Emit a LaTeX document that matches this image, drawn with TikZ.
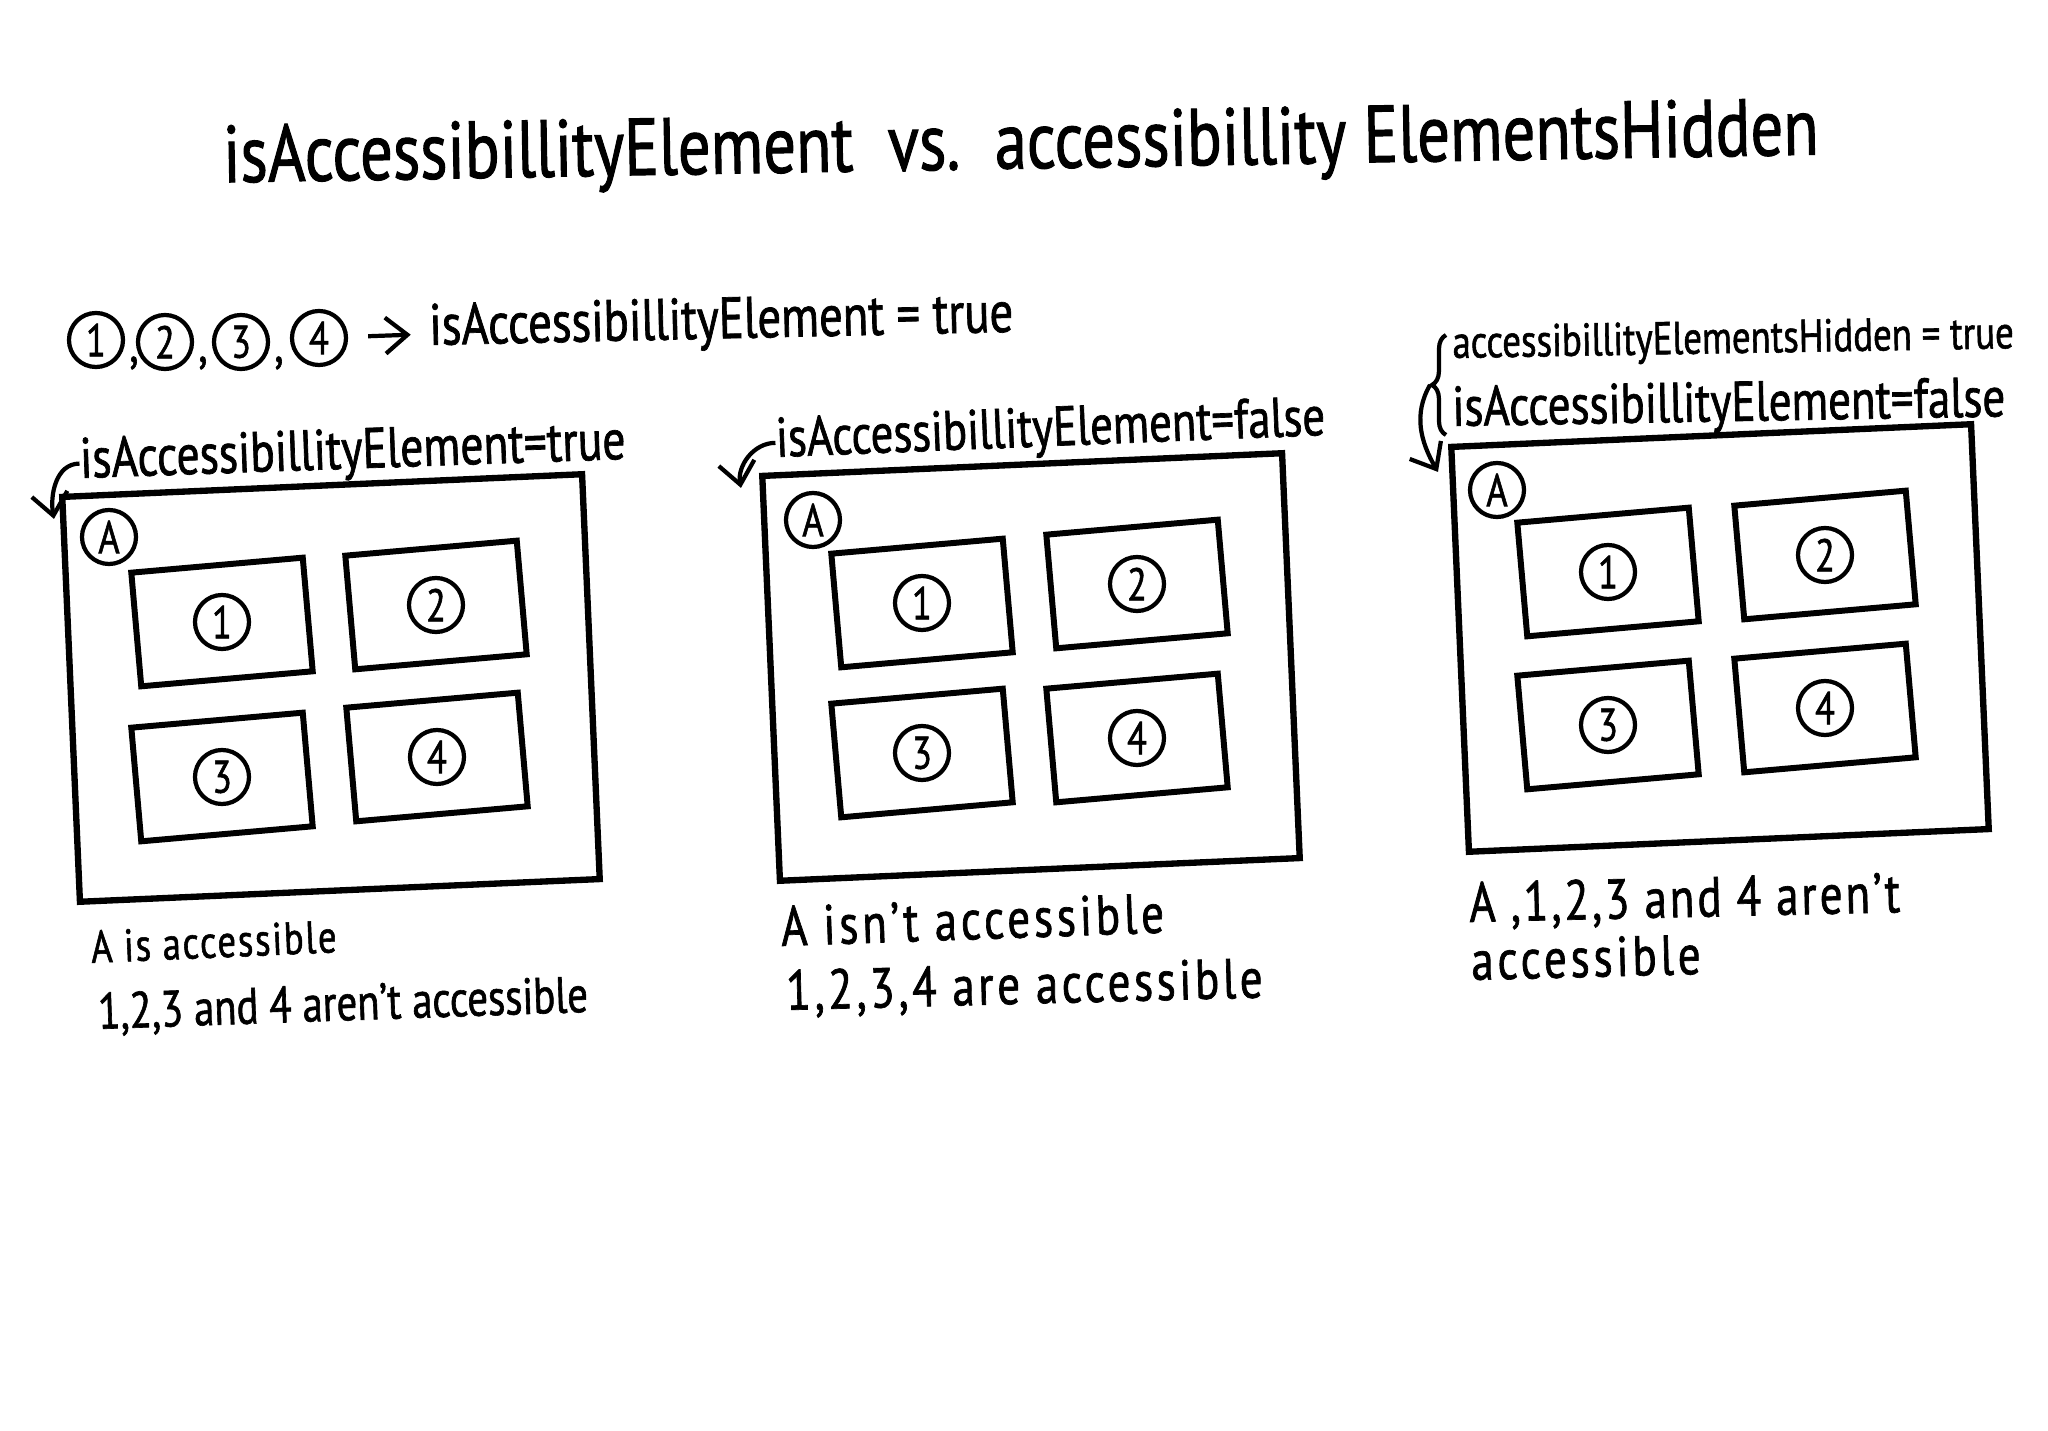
\documentclass[tikz,border=0pt]{standalone}
\usepackage{fontspec}
\setmainfont[FakeStretch=0.8,FakeBold=1.2]{PT Sans}
\usetikzlibrary{arrows.meta,decorations.pathreplacing}

\newcommand{\handsize}[1]{\fontsize{#1}{#1}\selectfont}
\newcommand{\spread}[1]{\addfontfeature{LetterSpace=#1}}

\tikzset{
  view/.style={draw,line width=1.8pt,minimum width=5.2cm,minimum height=4.05cm,rotate=2.5},
  item/.style={draw,line width=1.7pt,minimum width=1.72cm,minimum height=1.14cm,rotate=5},
  num/.style={draw,circle,line width=1.2pt,minimum size=0.54cm,inner sep=0pt,font=\handsize{13}},
  hand/.style={inner sep=0pt,anchor=base west},
  link/.style={->,line width=1.2pt},
}

\begin{document}
\begin{tikzpicture}[>={Straight Barb[length=2.2mm,width=3.6mm]},x=0.01cm,y=0.01cm]
    \fill[white] (0,0) rectangle (2048,-1431);
    \useasboundingbox (0,0) rectangle (2048,-1431);
    % title
    \node at (1021,-148)[font=\handsize{23},rotate=1] (title){isAccessibillityElement~~vs.~~accessibillity ElementsHidden};
    % legend
    \node at (96,-340)[num] (k1){1};
    \node at (134,-363)[font=\handsize{15}] (c1){,};
    \node at (165,-342)[num] (k2){2};
    \node at (203,-363)[font=\handsize{15}] (c2){,};
    \node at (241,-342)[num] (k3){3};
    \node at (279,-363)[font=\handsize{15}] (c3){,};
    \node at (319,-338)[num] (k4){4};
    \node at (429,-345)[hand,font=\handsize{16.6},rotate=1.3] (legend){isAccessibillityElement = true};
    \draw[link,shorten <=0.2cm,shorten >=0.18cm] (k4) -- (legend);

    % isAccessibillityElement = true
    \node at (331,-688)[view] (viewT){};
    \node at (109,-537)[num] (aT){A};
    \node at (222,-622)[item] (viewT1){};
    \node at (436,-605)[item] (viewT2){};
    \node at (222,-777)[item] (viewT3){};
    \node at (437,-757)[item] (viewT4){};
    \node at (viewT1)[num] (nT1){1};
    \node at (viewT2)[num] (nT2){2};
    \node at (viewT3)[num] (nT3){3};
    \node at (viewT4)[num] (nT4){4};
    \node at (80,-478)[hand,font=\handsize{16.2},rotate=2] (labT){isAccessibillityElement=true};
    \draw[link] (labT.west) to[out=180,in=100] ([xshift=-0.05cm,yshift=-0.25cm]viewT.north west);
    \node at (91,-963)[hand,font=\handsize{13}\spread{4},rotate=2.5] (capT1){A is accessible};
    \node at (98,-1029)[hand,font=\handsize{14.5},rotate=2] (capT2){1,2,3 and 4 aren't accessible};

    % isAccessibillityElement = false
    \node at (1031,-667)[view] (viewF){};
    \node at (813,-520)[num] (aF){A};
    \node at (922,-603)[item] (viewF1){};
    \node at (1137,-584)[item] (viewF2){};
    \node at (922,-753)[item] (viewF3){};
    \node at (1137,-738)[item] (viewF4){};
    \node at (viewF1)[num] (nF1){1};
    \node at (viewF2)[num] (nF2){2};
    \node at (viewF3)[num] (nF3){3};
    \node at (viewF4)[num] (nF4){4};
    \node at (776,-457)[hand,font=\handsize{15.9},rotate=2.3] (labF){isAccessibillityElement=false};
    \draw[link] (labF.west) to[out=180,in=100] ([xshift=-0.18cm,yshift=-0.15cm]viewF.north west);
    \node at (781,-946)[hand,font=\handsize{16}\spread{7},rotate=2] (capF1){A isn't accessible};
    \node at (786,-1010)[hand,font=\handsize{16}\spread{6.5},rotate=1.5] (capF2){1,2,3,4 are accessible};

    % accessibillityElementsHidden = true
    \node at (1720,-638)[view] (viewH){};
    \node at (1497,-490)[num] (aH){A};
    \node at (1608,-572)[item] (viewH1){};
    \node at (1825,-555)[item] (viewH2){};
    \node at (1608,-725)[item] (viewH3){};
    \node at (1825,-708)[item] (viewH4){};
    \node at (viewH1)[num] (nH1){1};
    \node at (viewH2)[num] (nH2){2};
    \node at (viewH3)[num] (nH3){3};
    \node at (viewH4)[num] (nH4){4};
    \node at (1452,-358)[hand,font=\handsize{13.1},rotate=1] (labH1){accessibillityElementsHidden = true};
    \node at (1452,-426)[hand,font=\handsize{16},rotate=1] (labH2){isAccessibillityElement=false};
    \coordinate (brTop) at (1446,-335);
    \coordinate (brBot) at (1446,-435);
    \coordinate (brTip) at (1430,-385);
    \draw[decorate,decoration={brace,amplitude=4pt},line width=1.2pt] (brBot) -- (brTop);
    \draw[link] (brTip) to[out=240,in=120] ([xshift=-0.1cm,yshift=-0.28cm]viewH.north west);
    \node at (1469,-922)[hand,font=\handsize{16}\spread{5.3},rotate=1.3] (capH1){A ,1,2,3 and 4 aren't};
    \node at (1471,-980)[hand,font=\handsize{16}\spread{7},rotate=1.5] (capH2){accessible};
\end{tikzpicture}
\end{document}
